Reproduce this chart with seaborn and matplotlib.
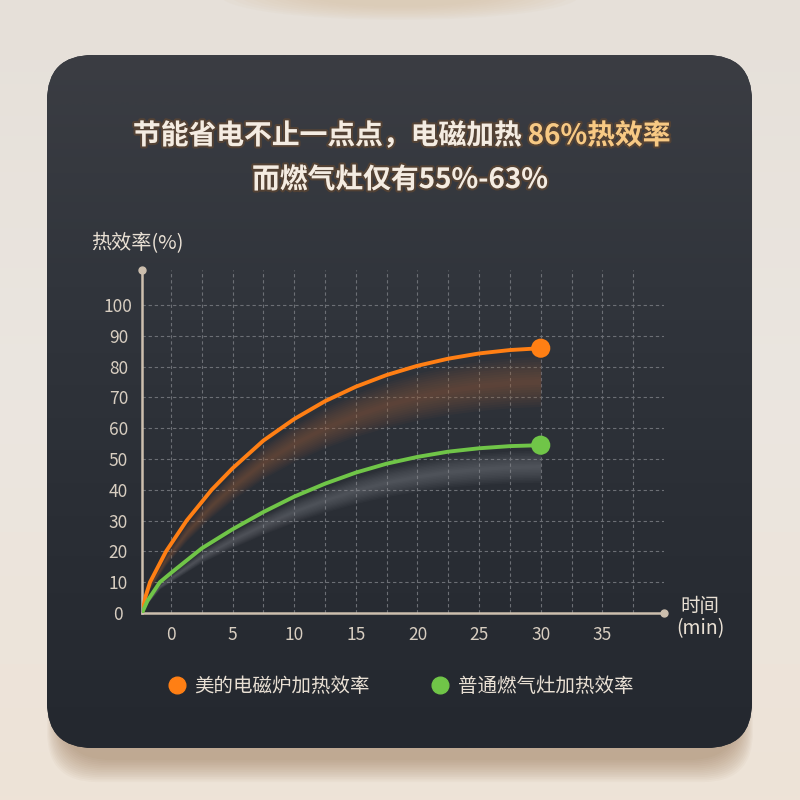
import numpy as np
import pandas as pd
import matplotlib
matplotlib.use('Agg')
import matplotlib.pyplot as plt
import matplotlib.patheffects as pe
from matplotlib.patches import FancyBboxPatch, Ellipse
from matplotlib.lines import Line2D
from matplotlib.colors import LinearSegmentedColormap
import seaborn as sns

sns.set_theme(style='dark')
plt.rcParams['font.family'] = ['Noto Sans CJK SC', 'DejaVu Sans']
plt.rcParams['axes.unicode_minus'] = False

# data (curves start at the axis origin)
minutes_induction = [-2.35, -2.05, -1.7, -0.4, 1.27, 3.3, 5, 7.5, 10, 12.5, 15, 17.5, 20, 22.5, 25, 27.5, 30]
induction = [0, 5.5, 10, 20, 30, 40, 47, 56, 63, 68.8, 73.5, 77.3, 80.3, 82.6, 84.3, 85.4, 86]
minutes_gas = [-2.35, -1.9, -0.9, 0, 2.5, 5, 7.5, 10, 12.5, 15, 17.5, 20, 22.5, 25, 27.5, 30]
gas_stove = [0, 4, 10, 13, 21, 27.2, 32.8, 37.8, 42, 45.6, 48.5, 50.7, 52.4, 53.5, 54.2, 54.5]
series_names = ['美的电磁炉加热效率', '普通燃气灶加热效率']
x_ticks = [0, 5, 10, 15, 20, 25, 30, 35]
y_ticks = [0, 10, 20, 30, 40, 50, 60, 70, 80, 90, 100]

title_1 = '节能省电不止一点点，电磁加热 '
title_1_hl = '86%热效率'
title_2 = '而燃气灶仅有55%-63%'

orange = '#ff7f14'
green = '#70c548'
txt = '#e9e0d4'

df = pd.DataFrame({
    'minutes': minutes_induction + minutes_gas,
    'eff': induction + gas_stove,
    'series': [series_names[0]] * len(induction) + [series_names[1]] * len(gas_stove),
})

fig = plt.figure(figsize=(8, 8), dpi=100)

# background + card
bg = fig.add_axes([0, 0, 1, 1])
bg.set_xlim(0, 800)
bg.set_ylim(800, 0)
bg.axis('off')
bg_cmap = LinearSegmentedColormap.from_list('bg', ['#e6e0d9', '#ebe6e0', '#eee3d7'])
bg.imshow(np.linspace(0, 1, 200).reshape(-1, 1), cmap=bg_cmap, aspect='auto',
          extent=[0, 800, 800, 0], zorder=0)
for i in range(10):
    bg.add_patch(Ellipse((400, -5), 360 - i * 20, 50 - i * 3, fc='#d6c0a0',
                         ec='none', alpha=0.07, zorder=1))
for i in range(14):
    sh = FancyBboxPatch((60 - i, 70 + i * 1.7), 680 + 2 * i, 690,
                        boxstyle='round,pad=0,rounding_size=50',
                        fc='#8f6844', ec='none', alpha=0.04, zorder=1)
    bg.add_patch(sh)
card = FancyBboxPatch((47, 55), 705, 693, boxstyle='round,pad=0,rounding_size=46',
                      fc='#2c3037', ec='none', zorder=2)
bg.add_patch(card)
card_cmap = LinearSegmentedColormap.from_list('card', ['#3b3d43', '#31353c', '#2a2e35', '#24282f'])
gy = np.linspace(0, 1, 300).reshape(-1, 1)
im = bg.imshow(gy, cmap=card_cmap, aspect='auto', extent=[47, 752, 748, 55], zorder=3)
im.set_clip_path(card)

# chart
ax = fig.add_axes([0.1775, 0.23375, 0.6525, 0.42875])
ax.set_facecolor('none')
ax.set_xlim(-2.35, 40)
ax.set_ylim(0, 111.4)

grid_kw = dict(colors='#6c6f75', linestyles=(0, (3, 2.5)), lw=0.8, zorder=1)
ax.vlines(np.arange(0, 40, 2.5), 0, 111.4, **grid_kw)
ax.hlines(y_ticks[1:], -2.35, 40, **grid_kw)

# soft glow bands under each curve
for xs, ys, col, a in [(minutes_induction, induction, '#a0633a', 0.055),
                       (minutes_gas, gas_stove, '#8c8f96', 0.05)]:
    xs, ys = np.array(xs), np.array(ys)
    for w in np.linspace(0.095, 0.01, 10):
        ax.fill_between(xs, ys * (0.875 - w), ys * (0.875 + w), color=col, alpha=a,
                        lw=0, zorder=2)

sns.lineplot(data=df, x='minutes', y='eff', hue='series', palette=[orange, green],
             estimator=None, sort=False, lw=2.8, legend=False, ax=ax, zorder=4)
for line in ax.get_lines():
    line.set_solid_joinstyle('round')
ends = df.groupby('series', sort=False).tail(1)
sns.scatterplot(data=ends, x='minutes', y='eff', hue='series', palette=[orange, green],
                s=190, edgecolor='none', legend=False, ax=ax, zorder=5, clip_on=False)

for s in ['top', 'right']:
    ax.spines[s].set_visible(False)
for s in ['left', 'bottom']:
    ax.spines[s].set_color('#cdbfae')
    ax.spines[s].set_linewidth(1.8)
    ax.spines[s].set_zorder(3)
ax.plot([-2.35], [111.4], 'o', color='#cdbfae', ms=5, clip_on=False, zorder=6)
ax.plot([40], [0], 'o', color='#cdbfae', ms=5, clip_on=False, zorder=6)

ax.set_xticks(x_ticks)
ax.set_yticks(y_ticks)
ax.tick_params(axis='both', length=0, colors='#d8cec1', labelsize=12.5)
ax.tick_params(axis='y', pad=17)
ax.tick_params(axis='x', pad=9)
for lab in ax.get_yticklabels():
    lab.set_horizontalalignment('center')
ax.set_xlabel('')
ax.set_ylabel('')
ax.grid(False)

fig.text(91 / 800, 1 - 244 / 800, '热效率(%)', ha='left', va='center', fontsize=14.5, color=txt)
fig.text(700 / 800, 1 - 606 / 800, '时间', ha='center', va='center', fontsize=14, color=txt)
fig.text(700 / 800, 1 - 629 / 800, '(min)', ha='center', va='center', fontsize=14, color=txt)

# title, second part highlighted
glow = [pe.withStroke(linewidth=3, foreground='#6b4a2c', alpha=0.55)]
t1 = fig.text(0, 1 - 136 / 800, title_1, ha='left', va='center', fontsize=20,
              weight='bold', color='#f4ece2', path_effects=glow)
t2 = fig.text(0, 1 - 136 / 800, title_1_hl, ha='left', va='center', fontsize=20,
              weight='bold', color='#f7c984', path_effects=glow)
fig.canvas.draw()
r = fig.canvas.get_renderer()
w1 = t1.get_window_extent(r).width / 800
w2 = t2.get_window_extent(r).width / 800
x0 = 0.502 - (w1 + w2) / 2
t1.set_x(x0)
t2.set_x(x0 + w1)
fig.text(0.5, 1 - 180 / 800, title_2, ha='center', va='center', fontsize=20,
         weight='bold', color='#f4ece2', path_effects=glow)

handles = [Line2D([], [], marker='o', ls='', color=c, markersize=12) for c in [orange, green]]
ax.legend(handles, series_names, loc='center', bbox_to_anchor=(0.499, 1 - 686 / 800),
          bbox_transform=fig.transFigure, ncol=2, frameon=False, fontsize=14,
          labelcolor=txt, handletextpad=0.3, columnspacing=3.0, handlelength=1.2)

fig.savefig('out.png', dpi=100)
